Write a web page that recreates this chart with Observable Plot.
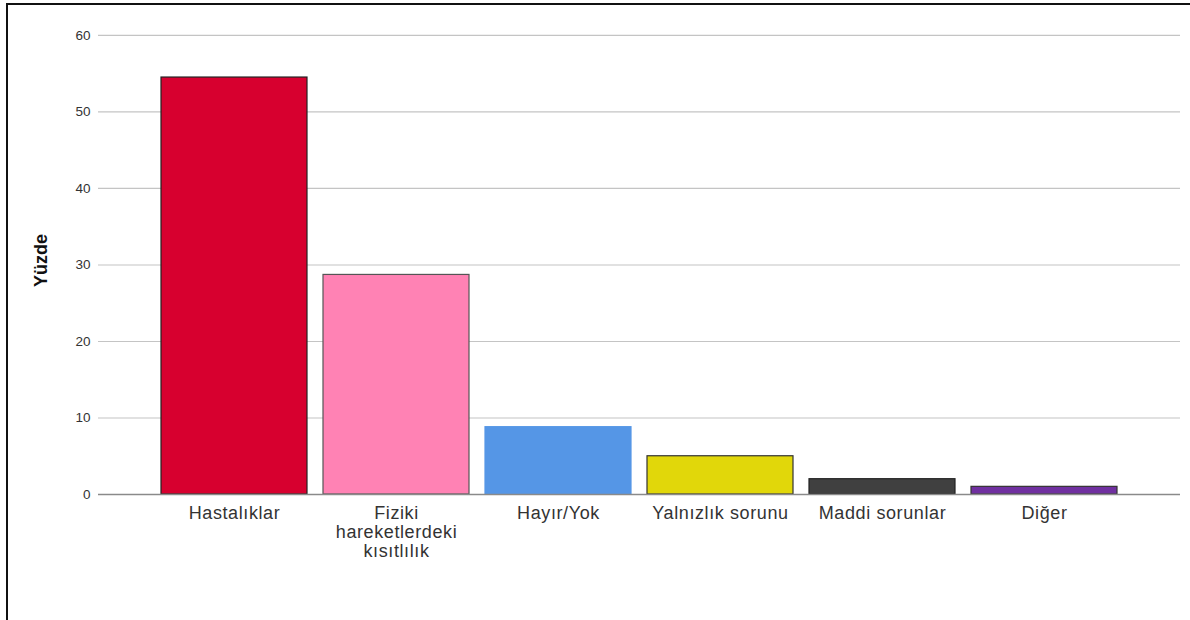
<!DOCTYPE html>
<html>
<head>
<meta charset="utf-8">
<script src="https://cdn.jsdelivr.net/npm/d3@7"></script>
<script src="https://cdn.jsdelivr.net/npm/@observablehq/plot@0.6"></script>
<style>
  html, body { margin: 0; padding: 0; background: #fff; }
  #wrap { position: relative; width: 1190px; height: 620px; overflow: hidden; }
  #frame { position: absolute; left: 6px; top: 3px; width: 1190px; height: 640px;
           border-left: 2px solid #111; border-top: 2px solid #111; pointer-events: none; }
  #chart { position: absolute; left: 0; top: 0; }
  g[aria-label="x-axis tick label"] text { letter-spacing: 0.6px; }
</style>
</head>
<body>
<div id="wrap">
  <div id="chart"></div>
  <div id="frame"></div>
</div>
<script>
const categories = ["Hastalıklar", "Fiziki\nhareketlerdeki\nkısıtlılık", "Hayır/Yok", "Yalnızlık sorunu", "Maddi sorunlar", "Diğer"];
const values = [54.5, 28.7, 8.8, 5.0, 2.0, 1.0];
const yTicks = [0, 10, 20, 30, 40, 50, 60];
const yLabel = "Yüzde";

const colors = ["#d7002f", "#ff82b4", "#5596e6", "#e1d70a", "#404040", "#7030a0"];
const strokes = ["#222", "#555", "#5596e6", "#333", "#222", "#333"];

const data = categories.map((c, i) => ({cat: c, value: values[i], fill: colors[i], stroke: strokes[i]}));

const chart = Plot.plot({
  width: 1190,
  height: 620,
  marginLeft: 98,
  marginRight: 10,
  marginTop: 12,
  marginBottom: 126,
  style: { fontFamily: "'Liberation Sans', Arial, sans-serif", background: "#fff" },
  x: { domain: categories, paddingInner: 0.1, paddingOuter: 0.38, label: null },
  y: { domain: [0, 63], label: null },
  marks: [
    Plot.gridY(yTicks, { stroke: "#c4c4c4", strokeOpacity: 1, strokeWidth: 1.2 }),
    Plot.barY(data, { x: "cat", y: "value", fill: d => d.fill, stroke: d => d.stroke, strokeWidth: 1.2 }),
    Plot.ruleY([0], { stroke: "#8a8a8a", strokeWidth: 1.5 }),
    Plot.ruleX([0], { frameAnchor: "left", y1: 0, y2: 63, stroke: "#8a8a8a", strokeWidth: 1.5 }),
    Plot.axisY(yTicks, { tickSize: 0, tickPadding: 8, fontSize: 13.5, fill: "#333", label: null }),
    Plot.axisX({ tickSize: 0, tickPadding: 11, fontSize: 18, fill: "#333", label: null, lineHeight: 1.06 }),
    Plot.text([yLabel], { frameAnchor: "left", textAnchor: "middle", dx: -57, dy: 7, rotate: -90, fontWeight: "bold", fontSize: 18, fill: "#111" })
  ]
});
document.getElementById("chart").appendChild(chart);
</script>
</body>
</html>
